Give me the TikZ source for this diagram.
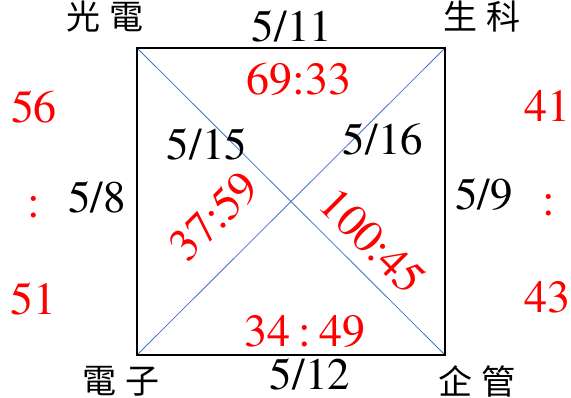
\documentclass[tikz,border=0pt]{standalone}
\usepackage{fontspec}
\newfontfamily\tnr{texgyretermes-regular.otf}
\newfontfamily\cjk{Noto Sans CJK TC}
\definecolor{diagblue}{HTML}{4472C4}
\definecolor{numred}{HTML}{FF0000}
\begin{document}
\begin{tikzpicture}[x=1pt,y=-1pt,
  num/.style={font=\tnr\fontsize{45}{45}\selectfont, inner sep=0pt, text=black, anchor=base},
  rnum/.style={font=\tnr\fontsize{46}{46}\selectfont, inner sep=0pt, text=numred, anchor=base},
  lab/.style={font=\cjk\fontsize{34}{34}\selectfont, inner sep=0pt, text=black},
  sq/.style={draw=black, line width=2pt},
  diag/.style={draw=diagblue, line width=0.8pt}]
\useasboundingbox (0,0) rectangle (571,398);
\coordinate (tl) at (137,48);
\coordinate (tr) at (445,48);
\coordinate (bl) at (137,355);
\coordinate (br) at (445,355);
\draw[diag] (tl) -- (br);
\draw[diag] (bl) -- (tr);
\draw[sq] (tl) -- (tr) -- (br) -- (bl) -- cycle;
\node[lab] (gd) at (105,17) {光\hspace{9pt}電};
\node[lab] (sk) at (482,17) {生\hspace{9pt}科};
\node[lab] (dz) at (121,381) {電\hspace{9pt}子};
\node[lab] (qg) at (477,381) {企\hspace{9pt}管};
\node[num] (a) at (292,42) {5/11};
\node[rnum] (b) at (299,95) {69:33};
\node[num] (c) at (207,160) {5/15};
\node[num] (d) at (383,155) {5/16};
\node[num] (e) at (97,213) {5/8};
\node[num] (f) at (484,210) {5/9};
\node[rnum, rotate=45, anchor=center] (g) at (214,216) {37:59};
\node[rnum, rotate=-45, anchor=center] (h) at (373,241) {100:45};
\node[rnum] (i) at (305,347) {34\,:\,49};
\node[num] (j) at (310,389) {5/12};
\node[rnum] (k1) at (34,123) {56};
\node[rnum] (k2) at (34,218) {:};
\node[rnum] (k3) at (33,315) {51};
\node[rnum] (m1) at (547,122) {41};
\node[rnum] (m2) at (549,216) {:};
\node[rnum] (m3) at (547,313) {43};
\end{tikzpicture}
\end{document}
